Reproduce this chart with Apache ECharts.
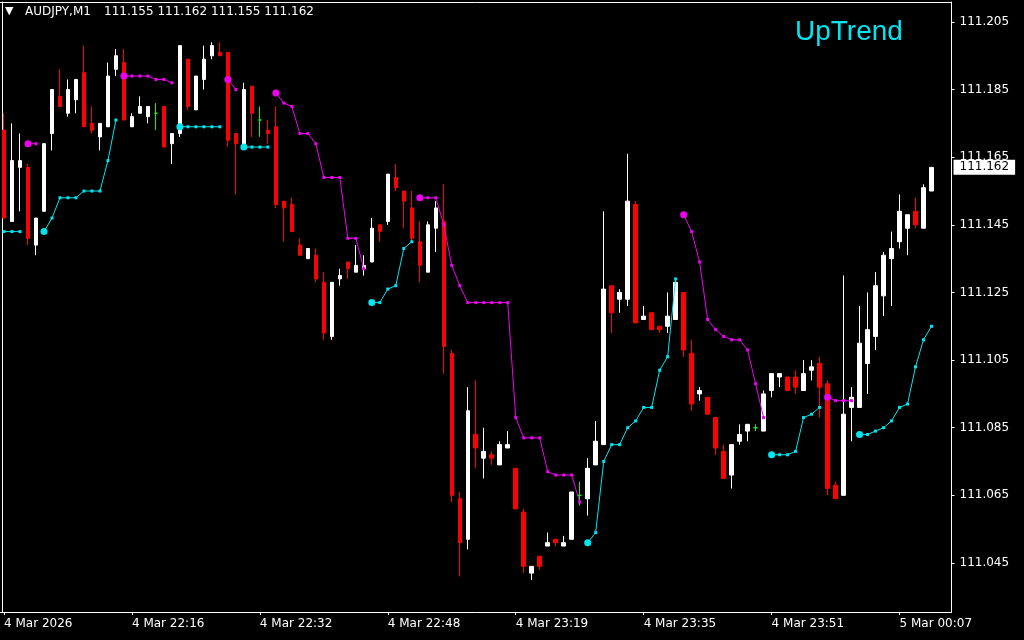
<!DOCTYPE html>
<html><head><meta charset="utf-8">
<script src="https://cdn.jsdelivr.net/npm/echarts@6/dist/echarts.min.js"></script>
<style>html,body{margin:0;padding:0;background:#000;}#c{width:1024px;height:640px;}</style>
</head><body><div id="c"></div>
<script>
const symbolName = 'AUDJPY,M1';
const trendLabel = 'UpTrend';
const tickLabels = ['4 Mar 2026','4 Mar 22:16','4 Mar 22:32','4 Mar 22:48','4 Mar 23:19','4 Mar 23:35','4 Mar 23:51','5 Mar 00:07'];
const priceTicks = [111.045,111.065,111.085,111.105,111.125,111.145,111.165,111.185,111.205];

const opens = [111.173,111.146,111.162,111.162,111.139,111.149,111.172,111.183,111.178,111.182,
111.190,111.175,111.171,111.174,111.191,111.193,111.174,111.178,111.177,111.178,
111.180,111.169,111.172,111.194,111.179,111.188,111.195,111.196,111.196,111.172,
111.168,111.186,111.176,111.173,111.174,111.152,111.151,111.139,111.135,111.136,
111.128,111.112,111.129,111.134,111.131,111.132,111.134,111.145,111.146,111.159,
111.155,111.150,111.140,111.131,111.144,111.146,111.107,111.064,111.052,111.083,
111.076,111.077,111.074,111.079,111.073,111.060,111.042,111.047,111.050,111.052,
111.050,111.052,111.065,111.064,111.074,111.080,111.127,111.123,111.123,111.151,
111.117,111.119,111.115,111.115,111.117,111.125,111.107,111.095,111.094,111.088,
111.078,111.071,111.081,111.084,111.085,111.084,111.096,111.100,111.100,111.100,
111.096,111.102,111.104,111.098,111.068,111.065,111.091,111.091,111.104,111.112,
111.124,111.135,111.140,111.144,111.149,111.144,111.155];
const closes = [111.147,111.164,111.164,111.141,111.147,111.169,111.185,111.180,111.185,111.188,
111.174,111.173,111.175,111.189,111.195,111.176,111.177,111.180,111.180,111.178,
111.168,111.172,111.198,111.180,111.189,111.194,111.198,111.195,111.170,111.169,
111.185,111.178,111.176,111.172,111.151,111.150,111.143,111.136,111.138,111.129,
111.113,111.128,111.130,111.132,111.133,111.133,111.144,111.143,111.160,111.156,
111.152,111.141,111.133,111.145,111.150,111.109,111.065,111.051,111.090,111.079,
111.078,111.076,111.080,111.080,111.061,111.044,111.044,111.044,111.051,111.051,
111.051,111.066,111.065,111.073,111.081,111.126,111.119,111.125,111.152,111.116,
111.118,111.114,111.114,111.118,111.128,111.108,111.092,111.096,111.089,111.079,
111.070,111.080,111.083,111.086,111.085,111.095,111.101,111.101,111.096,111.097,
111.101,111.103,111.097,111.067,111.064,111.089,111.094,111.110,111.114,111.127,
111.136,111.138,111.149,111.148,111.145,111.156,111.162];
const lows = [111.147,111.146,111.149,111.139,111.136,111.149,111.167,111.180,111.177,111.178,
111.174,111.172,111.167,111.174,111.189,111.176,111.174,111.178,111.175,111.173,
111.168,111.163,111.171,111.179,111.179,111.185,111.194,111.195,111.168,111.154,
111.168,111.171,111.171,111.169,111.150,111.140,111.143,111.136,111.135,111.128,
111.111,111.111,111.127,111.129,111.131,111.130,111.134,111.140,111.145,111.155,
111.144,111.140,111.128,111.131,111.137,111.101,111.063,111.041,111.049,111.073,
111.070,111.074,111.074,111.079,111.061,111.042,111.040,111.043,111.050,111.050,
111.050,111.052,111.062,111.059,111.074,111.080,111.113,111.119,111.121,111.116,
111.117,111.114,111.113,111.113,111.117,111.106,111.090,111.093,111.089,111.077,
111.070,111.067,111.080,111.081,111.084,111.084,111.094,111.097,111.096,111.095,
111.096,111.099,111.088,111.065,111.064,111.065,111.081,111.091,111.095,111.108,
111.118,111.121,111.138,111.136,111.144,111.144,111.155];
const highs = [111.178,111.175,111.172,111.163,111.147,111.169,111.185,111.191,111.188,111.188,
111.198,111.180,111.175,111.193,111.197,111.197,111.178,111.183,111.180,111.181,
111.180,111.172,111.198,111.194,111.189,111.198,111.199,111.199,111.196,111.172,
111.187,111.186,111.180,111.176,111.180,111.152,111.153,111.141,111.138,111.138,
111.131,111.128,111.132,111.134,111.139,111.136,111.147,111.145,111.160,111.163,
111.155,111.155,111.146,111.146,111.152,111.157,111.108,111.066,111.097,111.099,
111.085,111.078,111.081,111.084,111.073,111.061,111.044,111.047,111.054,111.052,
111.053,111.066,111.069,111.076,111.087,111.149,111.127,111.126,111.166,111.152,
111.121,111.119,111.115,111.125,111.129,111.125,111.111,111.097,111.094,111.088,
111.080,111.080,111.086,111.086,111.086,111.096,111.101,111.101,111.100,111.102,
111.105,111.105,111.106,111.099,111.069,111.130,111.097,111.121,111.125,111.131,
111.137,111.143,111.154,111.148,111.153,111.157,111.162];

const n = null;
const upTrail = [111.143,111.143,111.143,n,n,111.143,111.147,111.153,111.153,111.153,
111.155,111.155,111.155,111.164,111.176,n,n,n,n,n,
n,n,111.174,111.174,111.174,111.174,111.174,111.174,n,n,
111.168,111.168,111.168,111.168,n,n,n,n,n,n,
n,n,n,n,n,n,111.122,111.122,111.126,111.127,
111.138,111.140,n,n,n,n,n,n,n,n,
n,n,n,n,n,n,n,n,n,n,
n,n,n,111.051,111.054,111.075,111.080,111.080,111.085,111.087,
111.091,111.091,111.102,111.106,111.129,n,n,n,n,n,
n,n,n,n,n,n,111.077,111.077,111.077,111.078,
111.088,111.089,111.091,n,n,n,n,111.083,111.083,111.084,
111.085,111.087,111.091,111.092,111.103,111.111,111.115];
const downTrail = [n,n,n,111.169,111.169,n,n,n,n,n,
n,n,n,n,n,111.189,111.189,111.189,111.189,111.188,
111.188,111.187,n,n,n,n,n,n,111.188,111.185,
n,n,n,n,111.184,111.181,111.180,111.172,111.172,111.169,
111.159,111.159,111.159,111.141,111.141,111.132,n,n,n,n,
n,n,111.153,111.153,111.153,111.145,111.133,111.127,111.122,111.122,
111.122,111.122,111.122,111.122,111.088,111.082,111.082,111.082,111.072,111.071,
111.071,111.071,111.063,n,n,n,n,n,n,n,
n,n,n,n,n,111.148,111.143,111.134,111.117,111.114,
111.112,111.111,111.111,111.108,111.098,111.088,n,n,n,n,
n,n,n,111.094,111.093,111.093,111.093,n,n,n,
n,n,n,n,n,n,n];

const EXTRA_SLOTS = 2;
const categories = [];
for (let i = 0; i < opens.length + EXTRA_SLOTS; i++) categories.push(String(i));

const FONT = 'DejaVu Sans';
const CYAN = '#00e5f0';
const MAGENTA = '#f000f0';

const candleData = opens.map((o, i) => {
  const item = { value: [o, closes[i], lows[i], highs[i]] };
  if (o === closes[i]) item.itemStyle = { borderColor: '#00ff00', borderColor0: '#00ff00', color: '#00ff00', color0: '#00ff00' };
  return item;
});

function trail(arr) {
  return arr.map((v, i) => {
    if (v === null) return '-';
    const start = i > 0 && arr[i - 1] === null;
    return { value: v, symbol: start ? 'circle' : 'rect', symbolSize: start ? 7 : 3 };
  });
}

const last = opens.length - 1;
const headerValues = [opens[last], highs[last], lows[last], closes[last]].map(v => v.toFixed(3)).join(' ');

const Y_MIN = 111.0305, Y_MAX = 111.2109;

const chart = echarts.init(document.getElementById('c'), null, { renderer: 'canvas' });
chart.setOption({
  backgroundColor: '#000',
  animation: false,
  title: [
    { text: '▼', left: 5, top: 6, padding: 0, textStyle: { color: '#fff', fontSize: 11, fontFamily: FONT, fontWeight: 'normal' } },
    { text: symbolName, left: 25, top: 6, padding: 0, textStyle: { color: '#fff', fontSize: 12, fontFamily: FONT, fontWeight: 'normal' } },
    { text: headerValues, left: 104, top: 6, padding: 0, textStyle: { color: '#fff', fontSize: 12, fontFamily: FONT, fontWeight: 'normal' } },
    { text: trendLabel, left: 795, top: 18, padding: 0, textStyle: { color: CYAN, fontSize: 28, fontFamily: 'Liberation Sans', fontWeight: 'normal' } }
  ],
  grid: { left: -0.5, top: 2, width: 952, height: 610, show: false },
  xAxis: [{
    type: 'category', data: categories, boundaryGap: true, position: 'bottom',
    axisLine: { show: true, lineStyle: { color: '#fff', width: 1 } },
    axisTick: { show: true, interval: 15, alignWithLabel: true, length: 3, lineStyle: { color: '#fff' } },
    axisLabel: { interval: 15, color: '#fff', fontFamily: FONT, fontSize: 12, margin: 6, align: 'left',
      formatter: (v, idx) => (idx % 16 === 0 ? (tickLabels[idx / 16] || '') : '') },
    splitLine: { show: false }
  }, {
    type: 'category', data: categories, position: 'top',
    axisLine: { show: true, lineStyle: { color: '#fff', width: 1 } },
    axisTick: { show: false }, axisLabel: { show: false }, splitLine: { show: false }
  }],
  yAxis: [{
    type: 'value', position: 'right', min: Y_MIN, max: Y_MAX, z: 1,
    axisLine: { show: true, lineStyle: { color: '#fff', width: 1 } },
    axisTick: { show: true, length: 3, customValues: priceTicks, lineStyle: { color: '#fff' } },
    axisLabel: { customValues: priceTicks, color: '#fff', fontFamily: FONT, fontSize: 12, margin: 8, formatter: v => v.toFixed(3) },
    splitLine: { show: false }
  }, {
    type: 'value', position: 'left', offset: -2.5, min: Y_MIN, max: Y_MAX,
    axisLine: { show: true, lineStyle: { color: '#fff', width: 1 } },
    axisTick: { show: false }, axisLabel: { show: false }, splitLine: { show: false }
  }, {
    type: 'value', position: 'right', min: Y_MIN, max: Y_MAX, z: 10,
    axisLine: { show: false }, axisTick: { show: false }, splitLine: { show: false },
    axisLabel: { customValues: [closes[last]], color: '#000', backgroundColor: '#fff', padding: [2, 6, 1, 6],
      fontFamily: FONT, fontSize: 12, margin: 2, formatter: v => v.toFixed(3) }
  }],
  series: [{
    type: 'candlestick', data: candleData, barWidth: 4,
    itemStyle: { color: '#ffffff', color0: '#ff0000', borderColor: '#ffffff', borderColor0: '#ff0000', borderColorDoji: '#00ff00', borderWidth: 1 }
  }, {
    type: 'line', data: trail(upTrail), showAllSymbol: true, connectNulls: false,
    lineStyle: { color: CYAN, width: 1 }, itemStyle: { color: CYAN }, z: 5
  }, {
    type: 'line', data: trail(downTrail), showAllSymbol: true, connectNulls: false,
    lineStyle: { color: MAGENTA, width: 1 }, itemStyle: { color: MAGENTA }, z: 5
  }]
});
</script></body></html>
